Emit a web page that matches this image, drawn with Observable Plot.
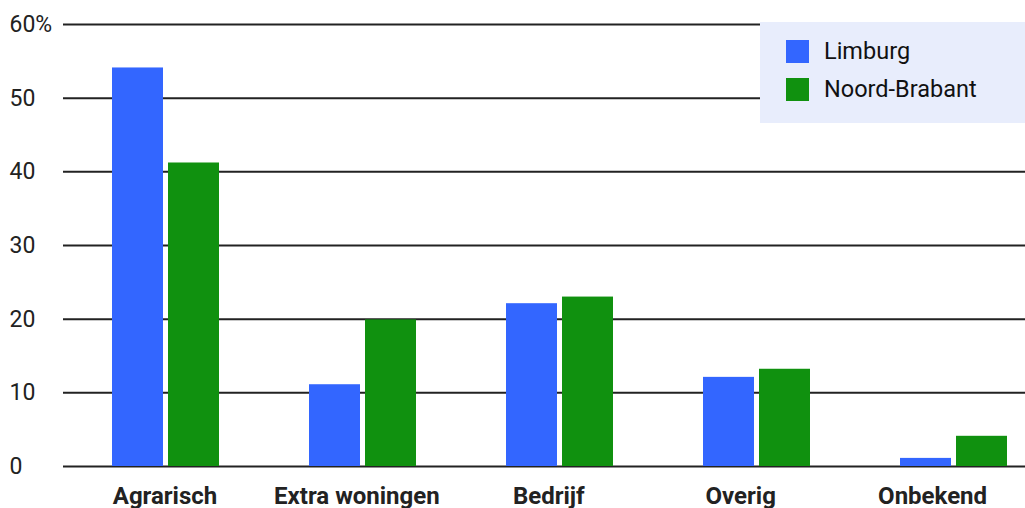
<!DOCTYPE html>
<html>
<head>
<meta charset="utf-8">
<script src="https://cdn.jsdelivr.net/npm/d3@7"></script>
<script src="https://cdn.jsdelivr.net/npm/@observablehq/plot@0.6"></script>
<style>
  html, body { margin: 0; padding: 0; background: #fff; }
  #wrap { position: relative; width: 1025px; height: 508px; font-family: Roboto, sans-serif; }
  #legend { position: absolute; left: 760px; top: 22px; width: 265px; height: 101px; background: #e8edfc; }
  .item { position: absolute; left: 26px; display: flex; align-items: center; font-size: 23.5px; line-height: 23px; color: #111; }
  .sw { width: 23px; height: 23px; margin-right: 15px; }
</style>
</head>
<body>
<div id="wrap"></div>
<script>
const categories = ["Agrarisch", "Extra woningen", "Bedrijf", "Overig", "Onbekend"];
const seriesNames = ["Limburg", "Noord-Brabant"];
const limburg = [54.1, 11.1, 22.1, 12.1, 1.1];
const noordBrabant = [41.2, 19.9, 23.0, 13.2, 4.1];
const yTicks = [0, 10, 20, 30, 40, 50, 60];
const colors = ["#3366ff", "#10910f"];

const rows = categories.flatMap((c, i) => [
  {category: c, series: seriesNames[0], value: limburg[i]},
  {category: c, series: seriesNames[1], value: noordBrabant[i]}
]);

const chart = Plot.plot({
  width: 1025,
  height: 508,
  marginLeft: 63,
  marginRight: 0,
  marginTop: 24,
  marginBottom: 42,
  style: {fontFamily: "Roboto, sans-serif", background: "transparent", overflow: "visible"},
  x: {domain: categories, paddingInner: 0.742, paddingOuter: 0.3075, align: 0.625, label: null},
  y: {domain: [0, 60], label: null},
  color: {domain: seriesNames, range: colors},
  marks: [
    Plot.ruleY(yTicks, {stroke: "#222", strokeWidth: 2}),
    Plot.barY(rows.filter(d => d.series === seriesNames[0]), {x: "category", y: "value", fill: "series", dx: -28}),
    Plot.barY(rows.filter(d => d.series === seriesNames[1]), {x: "category", y: "value", fill: "series", dx: 28}),
    Plot.axisY(yTicks, {tickSize: 0, tickPadding: 54, textAnchor: "start", fontSize: 23, fill: "#222",
      tickFormat: d => d === 60 ? "60%" : String(d)}),
    ...categories.map((c, i) => Plot.axisX([c], {tickSize: 0, tickPadding: 20, fontSize: 24, fontWeight: "bold",
      fill: "#222", dx: -1 - 5.1 * i}))
  ]
});

const wrap = document.getElementById("wrap");
wrap.appendChild(chart);
const legend = document.createElement("div");
legend.id = "legend";
seriesNames.forEach((s, i) => {
  const it = document.createElement("div");
  it.className = "item";
  it.style.top = (18 + i * 38) + "px";
  it.innerHTML = `<div class="sw" style="background:${colors[i]}"></div><span>${s}</span>`;
  legend.appendChild(it);
});
wrap.appendChild(legend);
</script>
</body>
</html>
